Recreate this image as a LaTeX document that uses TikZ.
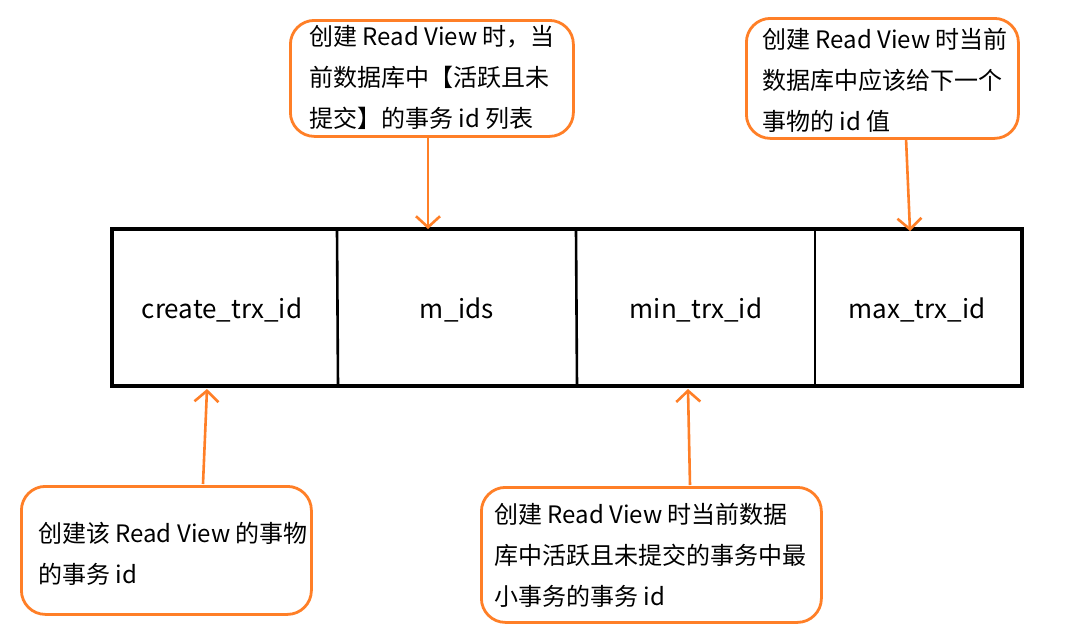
\documentclass[tikz,border=0pt]{standalone}
\usepackage{fontspec}
\setmainfont{Noto Sans CJK SC}
\usetikzlibrary{arrows.meta}
\definecolor{callorange}{HTML}{FF7F27}
\begin{document}
\begin{tikzpicture}[x=1pt,y=-1pt,
  callout/.style={draw=callorange,line width=2.8pt,rounded corners=24pt,inner sep=0pt,anchor=north west},
  calltext/.style={anchor=north west,inner sep=0pt,align=left,font=\fontsize{24}{41}\selectfont},
  field/.style={font=\fontsize{26}{30}\selectfont},
  pointer/.style={draw=callorange,line width=2.6pt,-{Straight Barb[length=11pt,width=24pt,line width=2.6pt]}},
  cell/.style={draw=black,line width=2.6pt}]
\useasboundingbox[fill=white] (0,0) rectangle (1069,643);
% main record box
\draw[line width=3.4pt] (112,229) rectangle (1022,386);
\coordinate (d1t) at (337,230); \coordinate (d1b) at (338,386);
\coordinate (d2t) at (576,230); \coordinate (d2b) at (577,386);
\coordinate (d3t) at (815,230); \coordinate (d3b) at (815,386);
\draw[cell] (d1t) -- (d1b);
\draw[cell] (d2t) -- (d2b);
\draw[cell] (d3t) -- (d3b);
\node[field] (f1) at (222,310) {create\_trx\_id};
\node[field] (f2) at (457,310) {m\_ids};
\node[field] (f3) at (696,310) {min\_trx\_id};
\node[field] (f4) at (917,310) {max\_trx\_id};
% callouts
\node[callout,minimum width=283pt,minimum height=116pt] (c1) at (289,19) {};
\node[calltext] (t1) at (309,25) {创建 Read View 时，当\\前数据库中【活跃且未\\提交】的事务 id 列表};
\node[callout,minimum width=272pt,minimum height=120pt] (c2) at (745,17) {};
\node[calltext] (t2) at (762,28) {创建 Read View 时当前\\数据库中应该给下一个\\事物的 id 值};
\node[callout,minimum width=290pt,minimum height=128pt] (c3) at (20,485) {};
\node[calltext] (t3) at (38,522) {创建该 Read View 的事物\\的事务 id};
\node[callout,minimum width=340pt,minimum height=135pt] (c4) at (480,486) {};
\node[calltext] (t4) at (494,503) {创建 Read View 时当前数据\\库中活跃且未提交的事务中最\\小事务的事务 id};
% arrow endpoints
\coordinate (a1s) at (428,137); \coordinate (a1e) at (428,229);
\coordinate (a2s) at (906,138); \coordinate (a2e) at (910,231);
\coordinate (a3s) at (203,484); \coordinate (a3e) at (207,389);
\coordinate (a4s) at (690,485); \coordinate (a4e) at (688,389);
\draw[pointer] (a1s) -- (a1e);
\draw[pointer] (a2s) -- (a2e);
\draw[pointer] (a3s) -- (a3e);
\draw[pointer] (a4s) -- (a4e);
\end{tikzpicture}
\end{document}
